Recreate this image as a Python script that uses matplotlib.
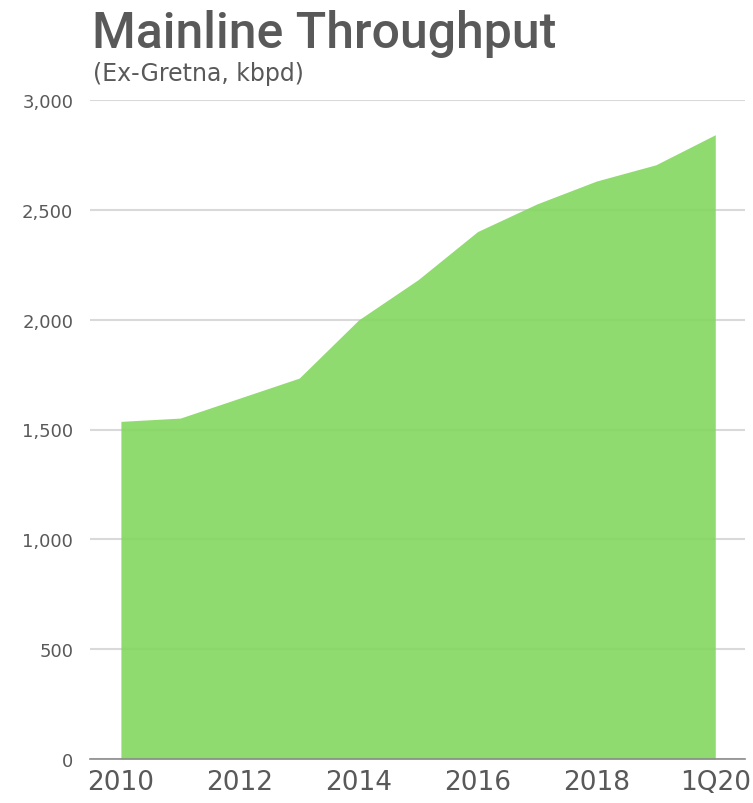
import matplotlib
matplotlib.use("Agg")
import matplotlib.pyplot as plt
from matplotlib.ticker import FuncFormatter, MultipleLocator

categories = ["2010", "2011", "2012", "2013", "2014", "2015", "2016", "2017", "2018", "2019", "1Q20"]
throughput = [1537, 1552, 1643, 1734, 1999, 2182, 2401, 2527, 2631, 2705, 2842]
shown_labels = ["2010", "2012", "2014", "2016", "2018", "1Q20"]

W, H = 753, 804
fig = plt.figure(figsize=(W / 100, H / 100), dpi=100)
ax = fig.add_axes([90 / W, 44 / H, (745 - 90) / W, (760 - 101) / H])

x = list(range(len(categories)))
ax.fill_between(x, 0, throughput, color="#83D75F", alpha=0.9, linewidth=0, zorder=2)

ax.set_xlim(-0.52, 10.5)
ax.set_ylim(0, 3000)
ax.yaxis.set_major_locator(MultipleLocator(500))
ax.yaxis.set_major_formatter(FuncFormatter(lambda v, p: f"{int(v):,}"))
ax.grid(axis="y", color="#D9D9D9", linewidth=1.5, zorder=1)
ax.set_axisbelow(True)

tick_pos = [categories.index(c) for c in shown_labels]
ax.set_xticks(tick_pos)
ax.set_xticklabels(shown_labels)

for s in ["top", "right", "left"]:
    ax.spines[s].set_visible(False)
ax.spines["bottom"].set_color("#8C8C8C")
ax.spines["bottom"].set_linewidth(1.2)
ax.spines["bottom"].set_zorder(3)

ax.tick_params(axis="y", length=0, pad=12, labelsize=13, labelcolor="#595959")
ax.tick_params(axis="x", length=0, pad=7, labelsize=19, labelcolor="#595959")

fig.text(92 / W, 1 - 48 / H, "Mainline Throughput", fontsize=36, fontweight="medium",
         color="#595959", family=["Roboto", "DejaVu Sans"], ha="left", va="baseline")
fig.text(93 / W, 1 - 81 / H, "(Ex-Gretna, kbpd)", fontsize=17,
         color="#595959", family=["DejaVu Sans"], ha="left", va="baseline")

fig.savefig("out.png", dpi=100, facecolor="white")
